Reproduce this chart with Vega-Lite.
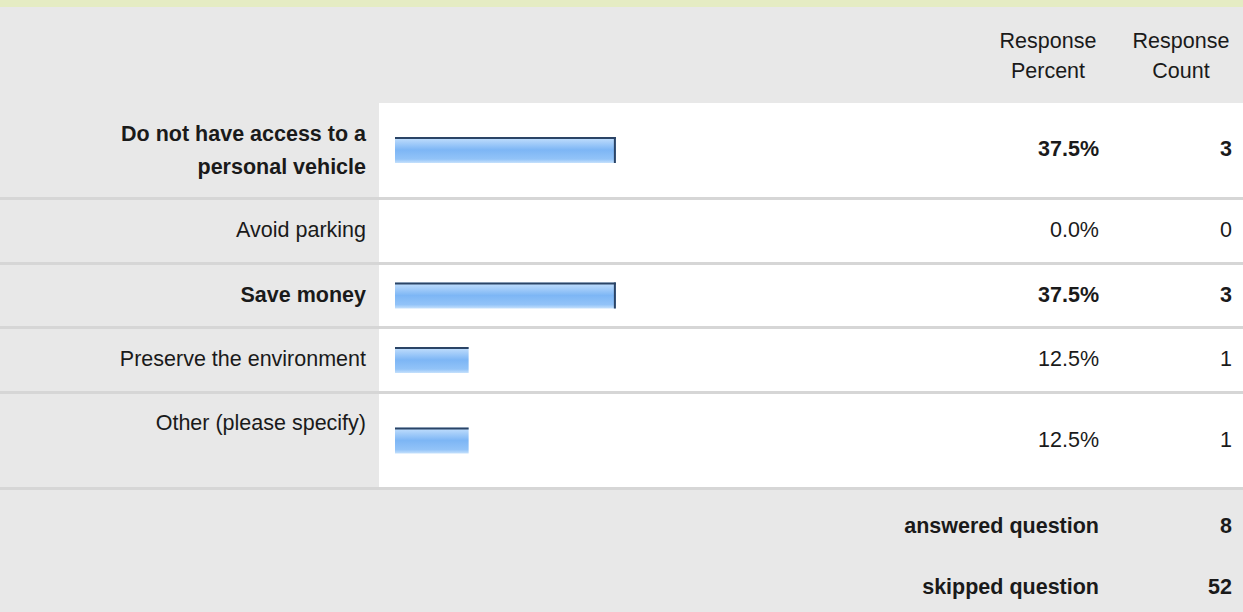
{
  "$schema": "https://vega.github.io/schema/vega-lite/v6.json",
  "padding": 0,
  "background": "#d6d6d6",
  "config": {
    "view": {"stroke": null},
    "text": {"font": "Liberation Sans", "fontSize": 21.5, "color": "#1a1a1a"}
  },
  "datasets": {
    "answers": [
      {"answer": "Do not have access to a\npersonal vehicle", "percent": 0.375, "count": 3},
      {"answer": "Avoid parking", "percent": 0.0, "count": 0},
      {"answer": "Save money", "percent": 0.375, "count": 3},
      {"answer": "Preserve the environment", "percent": 0.125, "count": 1},
      {"answer": "Other (please specify)", "percent": 0.125, "count": 1}
    ],
    "summary": [
      {"label": "answered question", "count": 8},
      {"label": "skipped question", "count": 52}
    ],
    "header": [
      {"column": "Response Percent", "title": "Response\nPercent"},
      {"column": "Response Count", "title": "Response\nCount"}
    ]
  },
  "spacing": 0,
  "vconcat": [
    {
      "width": 1243, "height": 7,
      "view": {"fill": "#e5ecc3", "stroke": null},
      "data": {"name": "header"},
      "mark": {"type": "text", "fontSize": 1, "baseline": "top"},
      "encoding": {"text": {"value": ""}, "y": {"value": 0}, "x": {"value": 0}}
    },
    {
      "width": 1243, "height": 96,
      "view": {"fill": "#e8e8e8", "stroke": null},
      "data": {"name": "header"},
      "mark": {"type": "text", "align": "center", "baseline": "middle", "lineBreak": "\n", "lineHeight": 30, "dy": -15},
      "encoding": {
        "x": {"field": "column", "type": "nominal", "sort": null, "scale": {"type": "point", "range": [1048, 1181], "padding": 0}, "axis": null},
        "y": {"value": 50},
        "text": {"field": "title"}
      }
    },
    {
      "spacing": 3,
      "vconcat": [
        {
          "spacing": 0,
          "hconcat": [
            {
              "width": 379, "height": 94,
              "view": {"fill": "#e8e8e8", "stroke": null},
              "data": {"name": "answers"},
              "transform": [{"filter": "indexof(datum.answer, 'Do not') === 0"}],
              "mark": {"type": "text", "align": "right", "baseline": "middle", "lineBreak": "\n", "lineHeight": 33, "dy": -15, "fontWeight": "bold"},
              "encoding": {
                "x": {"value": 366},
                "y": {"field": "answer", "type": "nominal", "axis": null, "scale": {"paddingInner": 0, "paddingOuter": 0}},
                "text": {"field": "answer"}
              }
            },
            {
              "width": 864, "height": 94,
              "view": {"fill": "#ffffff", "stroke": null},
              "data": {"name": "answers"},
              "transform": [{"filter": "indexof(datum.answer, 'Do not') === 0"}],
              "encoding": {
                "y": {"field": "answer", "type": "nominal", "axis": null, "scale": {"paddingInner": 0, "paddingOuter": 0}}
              },
              "layer": [
                {
                  "mark": {"type": "bar", "height": 26, "color": {"gradient": "linear", "x1": 0, "y1": 0, "x2": 0, "y2": 1, "stops": [{"offset": 0, "color": "#c6e1fd"}, {"offset": 0.5, "color": "#7db6f5"}, {"offset": 0.85, "color": "#92c3f8"}, {"offset": 1, "color": "#c6e1fc"}]}},
                  "encoding": {"x": {"field": "percent", "type": "quantitative", "axis": null, "scale": {"domain": [0, 1], "range": [16, 605]}}, "x2": {"datum": 0}}
                },
                {
                  "mark": {"type": "bar", "height": 2, "yOffset": -12, "color": "#2b4466"},
                  "encoding": {"x": {"field": "percent", "type": "quantitative"}, "x2": {"datum": 0}}
                },
                {
                  "mark": {"type": "tick", "orient": "vertical", "size": 26, "thickness": 2, "xOffset": -1, "color": "#2b4466", "opacity": 1},
                  "encoding": {"x": {"field": "percent", "type": "quantitative"}}
                },
                {
                  "mark": {"type": "text", "align": "right", "baseline": "middle", "fontWeight": "bold"},
                  "encoding": {"x": {"value": 720}, "text": {"field": "percent", "type": "quantitative", "format": ".1%"}}
                },
                {
                  "mark": {"type": "text", "align": "right", "baseline": "middle", "fontWeight": "bold"},
                  "encoding": {"x": {"value": 853}, "text": {"field": "count", "type": "quantitative"}}
                }
              ]
            }
          ]
        },
        {
          "spacing": 0,
          "hconcat": [
            {
              "width": 379, "height": 62,
              "view": {"fill": "#e8e8e8", "stroke": null},
              "data": {"name": "answers"},
              "transform": [{"filter": {"field": "answer", "equal": "Avoid parking"}}],
              "mark": {"type": "text", "align": "right", "baseline": "middle"},
              "encoding": {
                "x": {"value": 366},
                "y": {"field": "answer", "type": "nominal", "axis": null, "scale": {"paddingInner": 0, "paddingOuter": 0}},
                "text": {"field": "answer"}
              }
            },
            {
              "width": 864, "height": 62,
              "view": {"fill": "#ffffff", "stroke": null},
              "data": {"name": "answers"},
              "transform": [{"filter": {"field": "answer", "equal": "Avoid parking"}}],
              "encoding": {
                "y": {"field": "answer", "type": "nominal", "axis": null, "scale": {"paddingInner": 0, "paddingOuter": 0}}
              },
              "layer": [
                {
                  "mark": {"type": "text", "align": "right", "baseline": "middle"},
                  "encoding": {"x": {"value": 720}, "text": {"field": "percent", "type": "quantitative", "format": ".1%"}}
                },
                {
                  "mark": {"type": "text", "align": "right", "baseline": "middle"},
                  "encoding": {"x": {"value": 853}, "text": {"field": "count", "type": "quantitative"}}
                }
              ]
            }
          ]
        },
        {
          "spacing": 0,
          "hconcat": [
            {
              "width": 379, "height": 61,
              "view": {"fill": "#e8e8e8", "stroke": null},
              "data": {"name": "answers"},
              "transform": [{"filter": {"field": "answer", "equal": "Save money"}}],
              "mark": {"type": "text", "align": "right", "baseline": "middle", "fontWeight": "bold"},
              "encoding": {
                "x": {"value": 366},
                "y": {"field": "answer", "type": "nominal", "axis": null, "scale": {"paddingInner": 0, "paddingOuter": 0}},
                "text": {"field": "answer"}
              }
            },
            {
              "width": 864, "height": 61,
              "view": {"fill": "#ffffff", "stroke": null},
              "data": {"name": "answers"},
              "transform": [{"filter": {"field": "answer", "equal": "Save money"}}],
              "encoding": {
                "y": {"field": "answer", "type": "nominal", "axis": null, "scale": {"paddingInner": 0, "paddingOuter": 0}}
              },
              "layer": [
                {
                  "mark": {"type": "bar", "height": 26, "color": {"gradient": "linear", "x1": 0, "y1": 0, "x2": 0, "y2": 1, "stops": [{"offset": 0, "color": "#c6e1fd"}, {"offset": 0.5, "color": "#7db6f5"}, {"offset": 0.85, "color": "#92c3f8"}, {"offset": 1, "color": "#c6e1fc"}]}},
                  "encoding": {"x": {"field": "percent", "type": "quantitative", "axis": null, "scale": {"domain": [0, 1], "range": [16, 605]}}, "x2": {"datum": 0}}
                },
                {
                  "mark": {"type": "bar", "height": 2, "yOffset": -12, "color": "#2b4466"},
                  "encoding": {"x": {"field": "percent", "type": "quantitative"}, "x2": {"datum": 0}}
                },
                {
                  "mark": {"type": "tick", "orient": "vertical", "size": 26, "thickness": 2, "xOffset": -1, "color": "#2b4466", "opacity": 1},
                  "encoding": {"x": {"field": "percent", "type": "quantitative"}}
                },
                {
                  "mark": {"type": "text", "align": "right", "baseline": "middle", "fontWeight": "bold"},
                  "encoding": {"x": {"value": 720}, "text": {"field": "percent", "type": "quantitative", "format": ".1%"}}
                },
                {
                  "mark": {"type": "text", "align": "right", "baseline": "middle", "fontWeight": "bold"},
                  "encoding": {"x": {"value": 853}, "text": {"field": "count", "type": "quantitative"}}
                }
              ]
            }
          ]
        },
        {
          "spacing": 0,
          "hconcat": [
            {
              "width": 379, "height": 62,
              "view": {"fill": "#e8e8e8", "stroke": null},
              "data": {"name": "answers"},
              "transform": [{"filter": {"field": "answer", "equal": "Preserve the environment"}}],
              "mark": {"type": "text", "align": "right", "baseline": "middle"},
              "encoding": {
                "x": {"value": 366},
                "y": {"field": "answer", "type": "nominal", "axis": null, "scale": {"paddingInner": 0, "paddingOuter": 0}},
                "text": {"field": "answer"}
              }
            },
            {
              "width": 864, "height": 62,
              "view": {"fill": "#ffffff", "stroke": null},
              "data": {"name": "answers"},
              "transform": [{"filter": {"field": "answer", "equal": "Preserve the environment"}}],
              "encoding": {
                "y": {"field": "answer", "type": "nominal", "axis": null, "scale": {"paddingInner": 0, "paddingOuter": 0}}
              },
              "layer": [
                {
                  "mark": {"type": "bar", "height": 26, "color": {"gradient": "linear", "x1": 0, "y1": 0, "x2": 0, "y2": 1, "stops": [{"offset": 0, "color": "#c6e1fd"}, {"offset": 0.5, "color": "#7db6f5"}, {"offset": 0.85, "color": "#92c3f8"}, {"offset": 1, "color": "#c6e1fc"}]}},
                  "encoding": {"x": {"field": "percent", "type": "quantitative", "axis": null, "scale": {"domain": [0, 1], "range": [16, 605]}}, "x2": {"datum": 0}}
                },
                {
                  "mark": {"type": "bar", "height": 2, "yOffset": -12, "color": "#2b4466"},
                  "encoding": {"x": {"field": "percent", "type": "quantitative"}, "x2": {"datum": 0}}
                },
                {
                  "mark": {"type": "text", "align": "right", "baseline": "middle"},
                  "encoding": {"x": {"value": 720}, "text": {"field": "percent", "type": "quantitative", "format": ".1%"}}
                },
                {
                  "mark": {"type": "text", "align": "right", "baseline": "middle"},
                  "encoding": {"x": {"value": 853}, "text": {"field": "count", "type": "quantitative"}}
                }
              ]
            }
          ]
        },
        {
          "spacing": 0,
          "hconcat": [
            {
              "width": 379, "height": 93,
              "view": {"fill": "#e8e8e8", "stroke": null},
              "data": {"name": "answers"},
              "transform": [{"filter": {"field": "answer", "equal": "Other (please specify)"}}],
              "mark": {"type": "text", "align": "right", "baseline": "middle", "dy": -17},
              "encoding": {
                "x": {"value": 366},
                "y": {"field": "answer", "type": "nominal", "axis": null, "scale": {"paddingInner": 0, "paddingOuter": 0}},
                "text": {"field": "answer"}
              }
            },
            {
              "width": 864, "height": 93,
              "view": {"fill": "#ffffff", "stroke": null},
              "data": {"name": "answers"},
              "transform": [{"filter": {"field": "answer", "equal": "Other (please specify)"}}],
              "encoding": {
                "y": {"field": "answer", "type": "nominal", "axis": null, "scale": {"paddingInner": 0, "paddingOuter": 0}}
              },
              "layer": [
                {
                  "mark": {"type": "bar", "height": 26, "color": {"gradient": "linear", "x1": 0, "y1": 0, "x2": 0, "y2": 1, "stops": [{"offset": 0, "color": "#c6e1fd"}, {"offset": 0.5, "color": "#7db6f5"}, {"offset": 0.85, "color": "#92c3f8"}, {"offset": 1, "color": "#c6e1fc"}]}},
                  "encoding": {"x": {"field": "percent", "type": "quantitative", "axis": null, "scale": {"domain": [0, 1], "range": [16, 605]}}, "x2": {"datum": 0}}
                },
                {
                  "mark": {"type": "bar", "height": 2, "yOffset": -12, "color": "#2b4466"},
                  "encoding": {"x": {"field": "percent", "type": "quantitative"}, "x2": {"datum": 0}}
                },
                {
                  "mark": {"type": "text", "align": "right", "baseline": "middle"},
                  "encoding": {"x": {"value": 720}, "text": {"field": "percent", "type": "quantitative", "format": ".1%"}}
                },
                {
                  "mark": {"type": "text", "align": "right", "baseline": "middle"},
                  "encoding": {"x": {"value": 853}, "text": {"field": "count", "type": "quantitative"}}
                }
              ]
            }
          ]
        },
        {
          "width": 1243, "height": 122,
          "view": {"fill": "#e8e8e8", "stroke": null},
          "data": {"name": "summary"},
          "encoding": {
            "y": {"field": "label", "type": "nominal", "sort": null, "axis": null, "scale": {"paddingInner": 0, "paddingOuter": 0}}
          },
          "layer": [
            {
              "mark": {"type": "text", "align": "right", "baseline": "middle", "fontWeight": "bold", "dy": 6},
              "encoding": {"x": {"value": 1099}, "text": {"field": "label"}}
            },
            {
              "mark": {"type": "text", "align": "right", "baseline": "middle", "fontWeight": "bold", "dy": 6},
              "encoding": {"x": {"value": 1232}, "text": {"field": "count", "type": "quantitative"}}
            }
          ]
        }
      ]
    }
  ]
}
